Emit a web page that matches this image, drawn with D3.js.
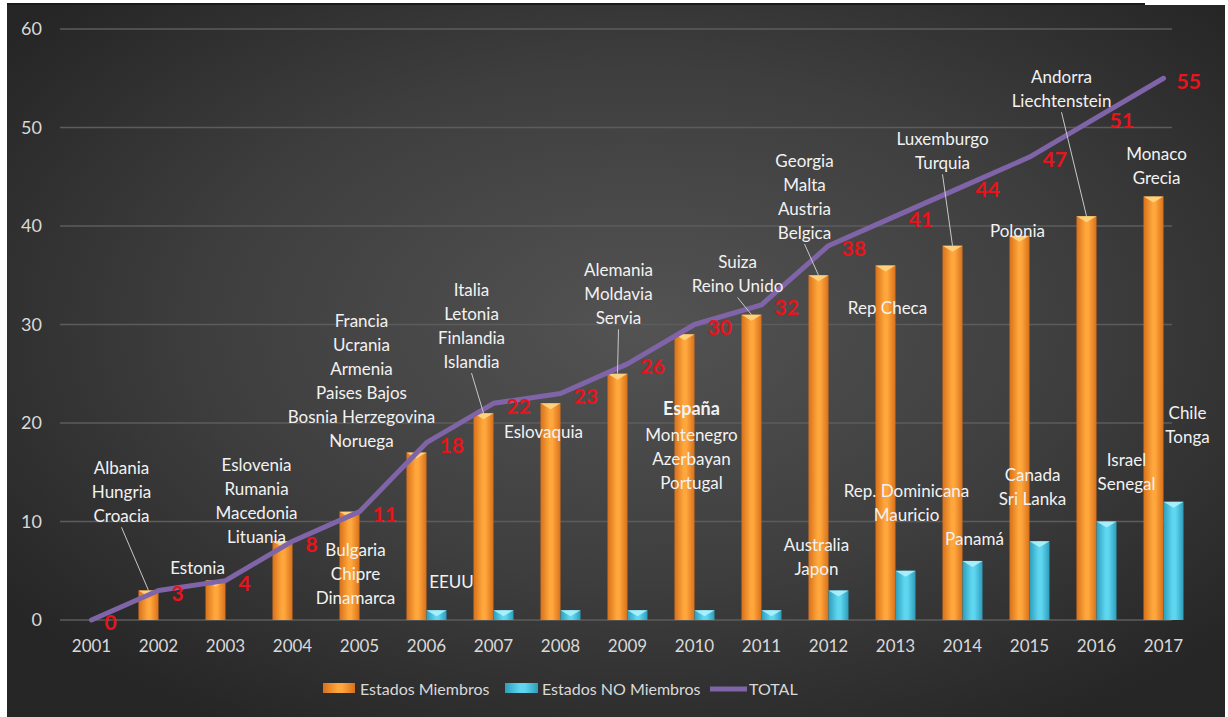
<!DOCTYPE html>
<html>
<head>
<meta charset="utf-8">
<script src="https://cdn.jsdelivr.net/npm/d3@7"></script>
<style>
  body { margin: 0; background: #fff; }
  svg { display: block; font-family: Lato, "Open Sans", sans-serif; }
</style>
</head>
<body>
<div id="chart"></div>
<script>
// DATA
const years = ["2001", "2002", "2003", "2004", "2005", "2006", "2007", "2008", "2009",
               "2010", "2011", "2012", "2013", "2014", "2015", "2016", "2017"]
const members    = [0, 3, 4, 8, 11, 17, 21, 22, 25, 29, 31, 35, 36, 38, 39, 41, 43]
const nonMembers = [0, 0, 0, 0, 0, 1, 1, 1, 1, 1, 1, 3, 5, 6, 8, 10, 12]
const totals     = [0, 3, 4, 8, 11, 18, 22, 23, 26, 30, 32, 38, 41, 44, 47, 51, 55]
const yTicks = [0, 10, 20, 30, 40, 50, 60]
const seriesNames = ["Estados Miembros", "Estados NO Miembros", "TOTAL"]

// country notes: year they belong to + names
const notes = [
    {year: "2002", names: ["Albania", "Hungria", "Croacia"], leader: true},
    {year: "2003", names: ["Estonia"]},
    {year: "2004", names: ["Eslovenia", "Rumania", "Macedonia", "Lituania"]},
    {year: "2005", names: ["Bulgaria", "Chipre", "Dinamarca"]},
    {year: "2006", names: ["Francia", "Ucrania", "Armenia", "Paises Bajos", "Bosnia Herzegovina", "Noruega"]},
    {year: "2006", names: ["EEUU"]},
    {year: "2007", names: ["Italia", "Letonia", "Finlandia", "Islandia"], leader: true},
    {year: "2008", names: ["Eslovaquia"]},
    {year: "2009", names: ["Alemania", "Moldavia", "Servia"], leader: true},
    {year: "2010", names: ["España", "Montenegro", "Azerbayan", "Portugal"], bold: 1},
    {year: "2011", names: ["Suiza", "Reino Unido"], leader: true},
    {year: "2012", names: ["Georgia", "Malta", "Austria", "Belgica"], leader: true},
    {year: "2013", names: ["Rep Checa"]},
    {year: "2012", names: ["Australia", "Japon"]},
    {year: "2014", names: ["Luxemburgo", "Turquia"], leader: true},
    {year: "2013", names: ["Rep. Dominicana", "Mauricio"]},
    {year: "2015", names: ["Polonia"]},
    {year: "2014", names: ["Panamá"]},
    {year: "2015", names: ["Canada", "Sri Lanka"]},
    {year: "2016", names: ["Andorra", "Liechtenstein"], leader: true},
    {year: "2016", names: ["Israel", "Senegal"]},
    {year: "2017", names: ["Monaco", "Grecia"]},
    {year: "2017", names: ["Chile", "Tonga"]}
]
// placement of each note: [dx from category centre (px), value level of first line]
const notePlace = [
    [-37, 15.4], [-28, 5.3], [-36, 15.7], [-4, 7.1], [-65, 30.4], [25, 3.9],
    [-22, 33.5], [-17, 19.1], [-9, 35.5], [-3, 21.5], [-24, 36.3], [-24, 46.6],
    [-8, 31.7], [-12, 7.6], [-20, 48.8], [11, 13.1], [-12, 39.5], [12, 8.2],
    [3, 14.7], [-35, 55.1], [30, 16.2], [-7, 47.3], [24, 21.0]
]

const W = 1228, H = 717
const m = {top: 29, right: 30, bottom: 97, left: 58}

const svg = d3.select("#chart").append("svg").attr("width", W).attr("height", H)
const defs = svg.append("defs")

const bg = defs.append("radialGradient").attr("id", "bg")
    .attr("cx", "52%").attr("cy", "45%").attr("r", "65%")
bg.append("stop").attr("offset", "0%").attr("stop-color", "#535353")
bg.append("stop").attr("offset", "55%").attr("stop-color", "#3e3e3e")
bg.append("stop").attr("offset", "100%").attr("stop-color", "#262626")

const hgrad = (id, edge, mid) => {
    const g = defs.append("linearGradient").attr("id", id)
        .attr("x1", "0%").attr("x2", "100%").attr("y1", "0%").attr("y2", "0%")
    g.append("stop").attr("offset", "0%").attr("stop-color", edge)
    g.append("stop").attr("offset", "45%").attr("stop-color", mid)
    g.append("stop").attr("offset", "60%").attr("stop-color", mid)
    g.append("stop").attr("offset", "100%").attr("stop-color", edge)
}
hgrad("orange", "#d8701a", "#ffa63c")
hgrad("cyan", "#2c9dbb", "#5fd6f0")

svg.append("rect").attr("x", 7).attr("y", 5).attr("width", 1218).attr("height", 712).attr("fill", "url(#bg)")
svg.append("line").attr("x1", 7).attr("x2", 1145).attr("y1", 4).attr("y2", 4)
    .attr("stroke", "#1a1a1a").attr("stroke-width", 2)

const x = d3.scaleBand().domain(years).range([m.left, W - m.right - 1])
const xc = d => x(d) + x.bandwidth() / 2
const x1 = d3.scaleBand().domain(["m", "n"]).range([-20, 20])
const y = d3.scaleLinear().domain([0, 60]).range([H - m.bottom, m.top])

// grid
svg.append("g").selectAll("line").data(yTicks).join("line")
    .attr("x1", m.left + 2).attr("x2", W - m.right - 26)
    .attr("y1", d => y(d)).attr("y2", d => y(d))
    .attr("stroke", "#5c5c5c").attr("stroke-width", 1.5)

// y axis labels
svg.append("g").selectAll("text").data(yTicks).join("text")
    .attr("x", 42).attr("y", d => y(d)).attr("dy", "0.35em")
    .attr("text-anchor", "end").attr("fill", "#d9d9d9").attr("font-size", 18)
    .text(d => d)

// x axis labels
svg.append("g").selectAll("text").data(years).join("text")
    .attr("x", d => xc(d)).attr("y", 652)
    .attr("text-anchor", "middle").attr("fill", "#d9d9d9").attr("font-size", 17)
    .text(d => d)

// bars
const bars = (vals, key, fill, hi) => {
    const g = svg.append("g")
    const rows = years.map((yr, i) => ({yr, v: vals[i]})).filter(d => d.v > 0)
    g.selectAll("rect").data(rows).join("rect")
        .attr("x", d => xc(d.yr) + x1(key))
        .attr("y", d => y(d.v))
        .attr("width", x1.bandwidth())
        .attr("height", d => y(0) - y(d.v))
        .attr("fill", fill)
    g.selectAll("path").data(rows).join("path")
        .attr("d", d => {
            const a = xc(d.yr) + x1(key), b = a + x1.bandwidth(), t = y(d.v)
            return `M${a},${t}L${b},${t}L${(a + b) / 2},${t + 6}Z`
        })
        .attr("fill", hi).attr("opacity", 0.85)
}
bars(members, "m", "url(#orange)", "#ffd98a")
bars(nonMembers, "n", "url(#cyan)", "#b5f3ff")

// total line
const pts = years.map((yr, i) => [xc(yr), y(totals[i])])
svg.append("path").datum(pts)
    .attr("d", d3.line())
    .attr("fill", "none").attr("stroke", "#8064a8").attr("stroke-width", 5)
    .attr("stroke-linejoin", "round").attr("stroke-linecap", "round")

svg.append("g").selectAll("text").data(pts).join("text")
    .attr("x", d => d[0] + 13).attr("y", d => d[1] + 3).attr("dy", "0.35em")
    .attr("fill", "#e8141c").attr("font-size", 21).attr("font-weight", "bold")
    .text((d, i) => totals[i])

// notes
const lh = 24
const ng = svg.append("g")
notes.forEach((n, i) => {
    const [dx, v] = notePlace[i]
    const cx = xc(n.year) + dx, cy = y(v)
    n.names.forEach((name, j) => {
        ng.append("text")
            .attr("x", cx).attr("y", cy + j * lh + (n.bold && j > 0 ? 3 : 0)).attr("dy", "0.35em")
            .attr("text-anchor", "middle").attr("fill", "#f2f2f2")
            .attr("font-size", n.bold && j === 0 ? 18 : 17)
            .attr("font-weight", n.bold && j === 0 ? "bold" : "normal")
            .text(name)
    })
    if (n.leader) {
        const k = years.indexOf(n.year)
        ng.append("line")
            .attr("x1", cx).attr("y1", cy + (n.names.length - 1) * lh + 11)
            .attr("x2", xc(n.year) + x1("m") + x1.bandwidth() / 2).attr("y2", y(members[k]))
            .attr("stroke", "#c8c8c8").attr("stroke-width", 1)
    }
})

// legend
const lg = svg.append("g").attr("font-size", 16).attr("fill", "#d9d9d9")
const lx = [323, 505, 710]
lg.append("rect").attr("x", lx[0]).attr("y", 683).attr("width", 32).attr("height", 10).attr("fill", "url(#orange)")
lg.append("rect").attr("x", lx[1]).attr("y", 683).attr("width", 33).attr("height", 10).attr("fill", "url(#cyan)")
lg.append("line").attr("x1", lx[2]).attr("x2", lx[2] + 37).attr("y1", 689).attr("y2", 689)
    .attr("stroke", "#8064a8").attr("stroke-width", 5)
lg.selectAll("text").data(seriesNames).join("text")
    .attr("x", (d, i) => lx[i] + (i === 2 ? 39 : 37)).attr("y", 689).attr("dy", "0.35em")
    .text(d => d)
</script>
</body>
</html>
